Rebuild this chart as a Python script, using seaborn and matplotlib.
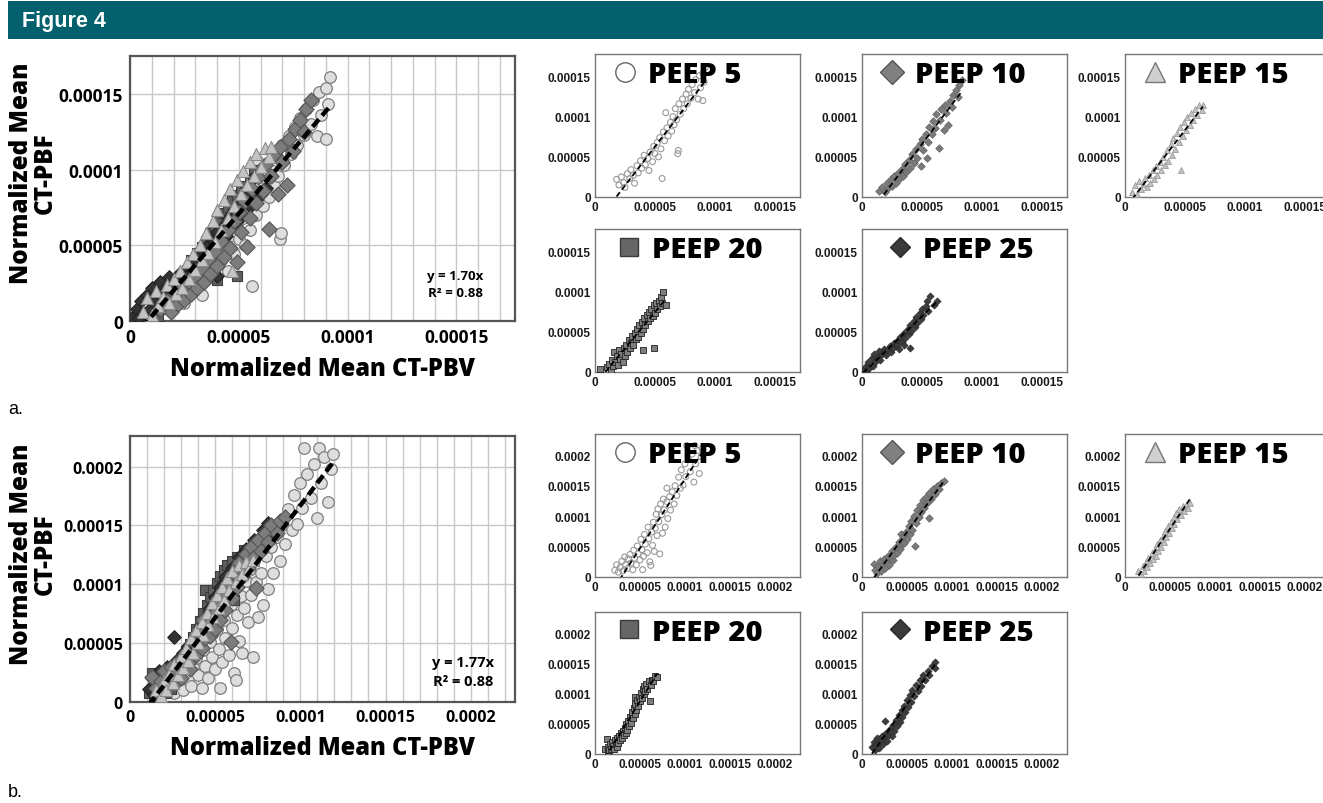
import numpy as np
import pandas as pd
import matplotlib
matplotlib.use("Agg")
import matplotlib.pyplot as plt
import seaborn as sns
from matplotlib.lines import Line2D
from matplotlib.patches import Rectangle
from matplotlib.ticker import FixedLocator, FixedFormatter, MultipleLocator

sns.set_theme(style="white")
plt.rcParams["font.family"] = ["DejaVu Sans"]
plt.rcParams["text.color"] = "black"
plt.rcParams["axes.labelcolor"] = "black"
plt.rcParams["xtick.color"] = "black"
plt.rcParams["ytick.color"] = "black"

# ---------------- data (values in units of 1e-5) ----------------
UNIT = 1e-5
peep_labels = ["PEEP 5", "PEEP 10", "PEEP 15", "PEEP 20", "PEEP 25"]

# panel a
a_peep5 = [(1.8,2.2),(2.0,1.5),(2.2,2.5),(2.4,1.8),(2.5,1.2),(2.7,2.9),(2.9,2.3),(3.0,3.4),(3.2,2.7),(3.3,1.7),
           (3.5,3.9),(3.6,3.0),(3.8,4.5),(3.9,3.6),(4.1,5.2),(4.2,4.0),(4.4,4.8),(4.5,3.3),(4.6,5.6),(4.8,4.4),
           (4.9,6.3),(5.0,5.4),(5.2,6.8),(5.3,5.0),(5.4,7.4),(5.5,6.0),(5.6,2.3),(5.7,8.1),(5.8,7.0),(5.9,10.5),
           (6.0,8.6),(6.1,7.6),(6.3,9.3),(6.4,8.2),(6.5,10.0),(6.6,9.0),(6.7,11.0),(6.8,9.6),(6.9,5.4),(6.95,5.8),
           (7.0,11.6),(7.1,10.3),(7.3,12.2),(7.4,11.0),(7.6,12.8),(7.7,11.6),(7.8,13.4),(8.0,12.3),(8.1,14.0),(8.3,13.0),
           (8.4,14.6),(8.6,12.2),(8.7,15.1),(8.8,13.6),(9.0,15.4),(9.1,14.3),(9.2,16.1),(9.0,12.0)]
a_peep10 = [(1.4,0.8),(1.7,1.3),(1.9,0.6),(2.1,1.8),(2.2,1.1),(2.4,2.2),(2.5,1.4),(2.7,2.6),(2.8,1.8),(3.0,3.0),
            (3.1,2.2),(3.3,3.5),(3.4,2.6),(3.6,4.1),(3.7,3.1),(3.9,4.6),(4.0,3.6),(4.2,5.3),(4.3,4.2),(4.5,6.0),
            (4.6,4.8),(4.8,6.6),(4.9,3.9),(5.0,7.2),(5.1,5.9),(5.3,7.9),(5.4,4.9),(5.5,6.8),(5.6,8.7),(5.8,7.8),
            (5.9,9.5),(6.1,8.6),(6.2,10.3),(6.4,6.1),(6.5,9.6),(6.6,11.0),(6.8,8.4),(6.9,11.5),(7.0,10.5),(7.2,9.0),
            (7.3,12.0),(7.5,11.2),(7.6,12.7),(7.8,13.3),(8.0,12.5),(8.1,14.0),(8.3,14.6)]
a_peep15 = [(0.6,0.6),(0.8,1.5),(1.0,0.4),(1.2,2.0),(1.3,1.0),(1.5,1.6),(1.7,2.4),(1.8,1.2),(2.0,2.8),(2.1,1.8),
            (2.3,3.3),(2.4,2.2),(2.6,3.9),(2.7,2.8),(2.9,4.4),(3.0,3.4),(3.2,5.0),(3.3,4.0),(3.5,5.8),(3.6,4.5),
            (3.8,6.6),(3.9,5.2),(4.0,7.3),(4.2,6.0),(4.3,8.0),(4.5,6.8),(4.6,8.7),(4.7,3.3),(4.8,7.6),(4.9,9.3),
            (5.1,8.4),(5.2,9.9),(5.4,9.0),(5.5,10.5),(5.7,9.6),(5.8,11.0),(6.0,10.2),(6.2,11.4),(6.4,10.8),(6.5,11.5)]
a_peep20 = [(0.4,0.4),(1.0,0.6),(1.2,1.0),(1.3,0.3),(1.4,1.5),(1.5,0.8),(1.6,2.5),(1.7,1.2),(1.8,2.0),(1.9,0.9),
            (2.0,2.7),(2.1,1.6),(2.2,2.3),(2.3,1.3),(2.4,3.0),(2.5,2.0),(2.6,3.4),(2.7,2.5),(2.8,4.0),(2.9,3.0),
            (3.0,3.6),(3.1,4.5),(3.2,3.3),(3.3,4.9),(3.4,4.1),(3.5,5.3),(3.6,4.4),(3.7,5.8),(3.8,4.9),(3.9,6.2),
            (4.0,2.7),(4.0,5.4),(4.1,6.7),(4.2,5.8),(4.3,7.1),(4.4,6.3),(4.5,7.5),(4.6,6.7),(4.7,7.9),(4.8,7.0),
            (4.9,3.0),(4.9,8.3),(5.0,7.4),(5.1,8.6),(5.2,7.8),(5.3,8.9),(5.4,8.2),(5.5,9.3),(5.6,8.6),(5.7,10.0),(5.9,8.3)]
a_peep25 = [(0.1,0.2),(0.3,0.8),(0.4,0.2),(0.5,1.3),(0.6,0.5),(0.8,1.7),(0.9,0.8),(1.0,2.2),(1.1,1.2),(1.3,1.9),
            (1.4,2.6),(1.5,1.5),(1.7,2.3),(1.8,2.9),(2.0,2.1),(2.1,2.7),(2.3,3.2),(2.4,2.5),(2.6,3.0),(2.7,3.6),
            (2.9,3.3),(3.0,4.0),(3.1,2.9),(3.2,4.4),(3.3,3.7),(3.5,3.4),(3.5,4.9),(3.6,4.2),(3.8,5.4),(3.9,4.7),
            (4.0,3.0),(4.0,5.9),(4.1,5.1),(4.3,6.3),(4.4,5.6),(4.5,6.8),(4.6,6.1),(4.8,7.3),(4.9,6.6),(5.0,7.8),
            (5.1,7.1),(5.3,8.2),(5.4,8.8),(5.5,7.6),(5.7,9.5),(6.0,8.4),(6.25,8.8)]

# panel b
b_peep5 = [(2.2,1.1),(2.4,2.0),(2.6,0.8),(2.8,1.6),(3.0,2.6),(3.1,1.0),(3.3,3.3),(3.4,2.0),(3.6,1.4),(3.7,3.0),
           (3.9,3.7),(4.0,2.3),(4.2,1.2),(4.3,4.4),(4.4,3.1),(4.6,2.0),(4.7,5.1),(4.8,3.8),(5.0,2.8),(5.1,6.2),
           (5.2,4.5),(5.3,1.2),(5.4,3.4),(5.5,7.0),(5.6,5.4),(5.8,4.0),(5.9,8.2),(6.0,6.3),(6.1,2.5),(6.2,1.9),
           (6.3,7.4),(6.4,5.2),(6.5,9.0),(6.6,4.2),(6.7,8.0),(6.8,10.3),(6.9,6.8),(7.0,11.2),(7.1,9.1),(7.2,3.8),
           (7.3,12.0),(7.4,10.2),(7.5,7.2),(7.6,12.8),(7.7,11.0),(7.8,8.2),(8.0,14.6),(8.0,12.4),(8.1,9.6),(8.3,13.2),
           (8.4,11.0),(8.6,14.0),(8.8,12.0),(8.9,15.0),(9.1,13.4),(9.3,16.4),(9.5,14.6),(9.6,17.6),(9.8,15.1),(10.0,18.6),
           (10.1,16.5),(10.2,21.6),(10.4,19.4),(10.6,17.3),(10.8,20.2),(11.0,15.6),(11.1,21.6),(11.2,18.6),(11.4,20.8),
           (11.6,17.0),(11.8,19.8),(11.9,21.1)]
b_peep10 = [(1.3,2.1),(1.5,1.2),(1.7,0.7),(1.8,1.8),(2.0,2.6),(2.1,1.0),(2.3,1.9),(2.4,3.0),(2.6,1.5),(2.7,2.4),
            (2.9,3.5),(3.0,2.0),(3.2,3.0),(3.3,4.2),(3.5,2.8),(3.6,3.6),(3.8,5.0),(3.9,4.0),(4.1,5.8),(4.2,4.6),
            (4.3,7.0),(4.4,5.4),(4.6,6.6),(4.7,5.6),(4.9,7.4),(5.0,6.2),(5.2,8.3),(5.3,7.0),(5.5,9.2),(5.6,7.8),
            (5.8,10.0),(5.9,5.1),(6.0,8.8),(6.1,11.0),(6.3,9.8),(6.4,11.8),(6.6,10.6),(6.8,12.6),(6.9,11.4),(7.1,13.2),
            (7.2,12.2),(7.4,9.7),(7.5,13.8),(7.7,12.8),(7.9,14.4),(8.1,13.6),(8.3,15.0),(8.6,14.4),(8.8,15.4),(9.1,15.7)]
b_peep15 = [(1.5,1.0),(1.8,0.5),(2.0,1.8),(2.1,1.0),(2.3,2.4),(2.5,1.6),(2.6,3.2),(2.8,2.3),(3.0,3.9),(3.1,2.9),
            (3.3,4.6),(3.4,3.5),(3.6,5.4),(3.7,4.2),(3.9,6.1),(4.0,5.0),(4.2,6.8),(4.3,5.7),(4.5,7.6),(4.6,6.5),
            (4.8,8.4),(4.9,7.2),(5.1,9.1),(5.2,8.0),(5.4,9.8),(5.5,8.7),(5.7,10.5),(5.8,9.5),(6.0,11.1),(6.2,10.2),
            (6.4,11.6),(6.6,10.9),(6.8,11.9),(7.0,11.4),(7.2,12.1)]
b_peep20 = [(1.1,0.8),(1.3,2.5),(1.4,0.4),(1.5,1.2),(1.6,0.6),(1.7,1.6),(1.8,0.9),(1.9,2.0),(2.0,1.3),(2.1,0.8),
            (2.2,2.3),(2.3,1.6),(2.4,1.1),(2.5,2.7),(2.6,1.9),(2.7,3.0),(2.8,2.3),(2.9,3.4),(3.0,2.7),(3.1,3.8),
            (3.2,3.1),(3.3,4.3),(3.4,3.5),(3.5,4.9),(3.6,4.0),(3.7,5.5),(3.8,4.6),(3.9,6.2),(4.0,5.2),(4.1,6.9),
            (4.2,5.9),(4.3,7.6),(4.4,9.5),(4.4,6.6),(4.5,8.2),(4.6,7.3),(4.7,8.9),(4.8,8.0),(4.9,9.5),(5.0,8.7),
            (5.1,10.1),(5.2,9.3),(5.3,10.7),(5.4,9.9),(5.5,11.2),(5.6,10.4),(5.7,11.6),(5.8,10.8),(6.0,12.0),(6.1,8.7),
            (6.2,11.4),(6.3,12.3),(6.5,12.0),(6.7,12.9),(6.9,12.8)]
b_peep25 = [(1.1,1.1),(1.3,2.0),(1.4,0.6),(1.6,1.5),(1.7,2.6),(1.9,1.0),(2.0,2.0),(2.2,3.0),(2.3,1.6),(2.5,2.6),
            (2.6,5.5),(2.7,3.5),(2.8,2.2),(3.0,3.2),(3.1,4.2),(3.3,3.0),(3.4,4.8),(3.6,3.8),(3.8,5.6),(3.9,4.6),
            (4.1,6.4),(4.2,5.3),(4.4,7.2),(4.5,6.1),(4.7,8.0),(4.8,7.0),(5.0,8.9),(5.1,7.8),(5.3,9.8),(5.4,8.6),
            (5.6,10.6),(5.8,9.6),(6.0,11.4),(6.2,10.5),(6.4,12.3),(6.6,11.3),(6.8,13.0),(7.0,12.2),(7.3,13.8),(7.5,13.0),
            (7.8,14.6),(8.1,14.2),(8.1,15.2)]

equation_a = ["y = 1.70x", "R² = 0.88"]
equation_b = ["y = 1.77x", "R² = 0.88"]

ticks_a = [0, 5e-5, 1e-4, 1.5e-4]
ticklabels_a = ["0", "0.00005", "0.0001", "0.00015"]
ticks_b = [0, 5e-5, 1e-4, 1.5e-4, 2e-4]
ticklabels_b = ["0", "0.00005", "0.0001", "0.00015", "0.0002"]

xlabel_main = "Normalized Mean CT-PBV"
ylabel_main = "Normalized Mean\nCT-PBF"

# ---------------- styles ----------------
main_style = {
    "PEEP 5":  dict(marker="o", s=70, color="#dedede", edgecolor="#7e7e7e", linewidth=0.9),
    "PEEP 15": dict(marker="^", s=75, color="#c4c4c4", edgecolor="#8a8a8a", linewidth=0.8),
    "PEEP 10": dict(marker="D", s=60, color="#7c7c7c", edgecolor="#555555", linewidth=0.8),
    "PEEP 20": dict(marker="s", s=60, color="#5e5e5e", edgecolor="#3c3c3c", linewidth=0.8),
    "PEEP 25": dict(marker="D", s=48, color="#333333", edgecolor="#222222", linewidth=0.8),
}
small_style = {
    "PEEP 5":  dict(marker="o", s=18, color="#9a9a9a", facecolor="none", edgecolor="#9a9a9a", linewidth=0.8),
    "PEEP 10": dict(marker="D", s=15, color="#7a7a7a", edgecolor="#666666", linewidth=0.5),
    "PEEP 15": dict(marker="^", s=18, color="#c2c2c2", edgecolor="#9a9a9a", linewidth=0.6),
    "PEEP 20": dict(marker="s", s=15, color="#7e7e7e", edgecolor="#222222", linewidth=0.6),
    "PEEP 25": dict(marker="D", s=13, color="#3c3c3c", edgecolor="#2a2a2a", linewidth=0.5),
}
legend_style = {
    "PEEP 5":  dict(marker="o", markersize=14, markerfacecolor="white",   markeredgecolor="#666666", markeredgewidth=1.0),
    "PEEP 10": dict(marker="D", markersize=12, markerfacecolor="#808080", markeredgecolor="#555555", markeredgewidth=1.0),
    "PEEP 15": dict(marker="^", markersize=15, markerfacecolor="#d0d0d0", markeredgecolor="#777777", markeredgewidth=1.0),
    "PEEP 20": dict(marker="s", markersize=13, markerfacecolor="#666666", markeredgecolor="#3a3a3a", markeredgewidth=1.0),
    "PEEP 25": dict(marker="D", markersize=10, markerfacecolor="#3a3a3a", markeredgecolor="#2a2a2a", markeredgewidth=1.0),
}

W, H = 1323, 804
fig = plt.figure(figsize=(W / 100, H / 100), dpi=100)
fig.patch.set_facecolor("white")

def px_axes(left, top, right, bottom):
    return fig.add_axes([left / W, 1 - bottom / H, (right - left) / W, (bottom - top) / H])

def to_df(pairs, label):
    arr = np.array(pairs, dtype=float) * UNIT
    return pd.DataFrame({"x": arr[:, 0], "y": arr[:, 1], "peep": label})

sets = {
    "a": dict(zip(peep_labels, [a_peep5, a_peep10, a_peep15, a_peep20, a_peep25])),
    "b": dict(zip(peep_labels, [b_peep5, b_peep10, b_peep15, b_peep20, b_peep25])),
}

# ---------------- header ----------------
fig.add_artist(Rectangle((8 / W, 1 - 40 / H), (W - 8) / W, 38 / H, transform=fig.transFigure,
                         facecolor="#02616c", edgecolor="none"))
fig.text(22 / W, 1 - 21 / H, "Figure 4", color="white", fontsize=15.5, fontweight="bold",
         family=["Liberation Sans"], ha="left", va="center")

# ---------------- main panels ----------------
main_cfg = {
    "a": dict(box=(130, 57, 515, 322), xlim=1.77e-4, ylim=1.75e-4, ticks=ticks_a, labels=ticklabels_a,
              eq=equation_a, eqpos=(0.845, 0.14), eqsize=9.5, tsize=12.5, letter_y=410),
    "b": dict(box=(130, 437, 515, 703), xlim=2.26e-4, ylim=2.26e-4, ticks=ticks_b, labels=ticklabels_b,
              eq=equation_b, eqpos=(0.865, 0.115), eqsize=10.5, tsize=11.5, letter_y=793),
}
draw_order = ["PEEP 5", "PEEP 20", "PEEP 25", "PEEP 10", "PEEP 15"]

for key, cfg in main_cfg.items():
    ax = px_axes(*cfg["box"])
    frames = []
    for i, lab in enumerate(draw_order):
        df = to_df(sets[key][lab], lab)
        frames.append(df)
        sns.scatterplot(data=df, x="x", y="y", ax=ax, zorder=3 + i, legend=False, **main_style[lab])
    alldf = pd.concat(frames)
    sns.regplot(data=alldf, x="x", y="y", ax=ax, scatter=False, ci=None, truncate=True, color="black",
                line_kws=dict(lw=3.2, ls=(0, (2.2, 1.1)), zorder=10))
    ax.set_xlim(0, cfg["xlim"])
    ax.set_ylim(0, cfg["ylim"])
    ax.xaxis.set_major_locator(FixedLocator(cfg["ticks"]))
    ax.xaxis.set_major_formatter(FixedFormatter(cfg["labels"]))
    ax.yaxis.set_major_locator(FixedLocator(cfg["ticks"]))
    ax.yaxis.set_major_formatter(FixedFormatter(cfg["labels"]))
    ax.xaxis.set_minor_locator(MultipleLocator(1e-5))
    ax.grid(True, which="major", axis="both", color="#c8c8c8", lw=1.0, zorder=0)
    ax.grid(True, which="minor", axis="x", color="#c8c8c8", lw=1.0, zorder=0)
    ax.set_axisbelow(True)
    ax.tick_params(axis="both", which="both", length=0, pad=5)
    for t in ax.get_xticklabels() + ax.get_yticklabels():
        t.set_fontfamily(["Open Sans", "DejaVu Sans"])
        t.set_fontweight("bold")
        t.set_fontsize(cfg["tsize"])
        t.set_color("black")
    for sp in ax.spines.values():
        sp.set_color("#555555")
        sp.set_linewidth(1.6)
    ax.set_xlabel(xlabel_main, family=["Open Sans", "DejaVu Sans"], fontweight="heavy", fontsize=17,
                  labelpad=7, color="black")
    ax.set_ylabel(ylabel_main, family=["Open Sans", "DejaVu Sans"], fontweight="heavy", fontsize=17.5,
                  linespacing=0.92, color="black")
    ax.yaxis.set_label_coords(-0.188, 0.56)
    ax.text(cfg["eqpos"][0], cfg["eqpos"][1], "\n".join(cfg["eq"]), transform=ax.transAxes,
            ha="center", va="center", fontsize=cfg["eqsize"], fontweight="bold", color="black",
            family=["Open Sans", "DejaVu Sans"], linespacing=1.45, zorder=12)
    fig.text(8 / W, 1 - cfg["letter_y"] / H, key + ".", fontsize=13,
             family=["Liberation Sans"], ha="left", va="center", color="black")

# ---------------- small panels ----------------
cols = [(595, 800), (862, 1067), (1125, 1330)]
small_cfg = {
    "a": dict(rows=[(55, 198), (230, 373)], xlim=1.71e-4, ylim=1.78e-4, ticks=ticks_a, labels=ticklabels_a),
    "b": dict(rows=[(435, 578), (613, 755)], xlim=2.28e-4, ylim=2.35e-4, ticks=ticks_b, labels=ticklabels_b),
}
slots = [(0, 0), (0, 1), (0, 2), (1, 0), (1, 1)]
legend_anchor = {"PEEP 5": (0.08, 0.96), "PEEP 10": (0.08, 0.96), "PEEP 15": (0.08, 0.96),
                 "PEEP 20": (0.1, 0.96), "PEEP 25": (0.12, 0.96)}

for key, cfg in small_cfg.items():
    for lab, (r, c) in zip(peep_labels, slots):
        top, bottom = cfg["rows"][r]
        left, right = cols[c]
        ax = px_axes(left, top, right, bottom)
        df = to_df(sets[key][lab], lab)
        sns.scatterplot(data=df, x="x", y="y", ax=ax, legend=False, zorder=3, **small_style[lab])
        sns.regplot(data=df, x="x", y="y", ax=ax, scatter=False, ci=None, truncate=True, color="black",
                    line_kws=dict(lw=1.3, ls=(0, (3, 1.8)), zorder=5))
        ax.set_xlim(0, cfg["xlim"])
        ax.set_ylim(0, cfg["ylim"])
        ax.xaxis.set_major_locator(FixedLocator(cfg["ticks"]))
        ax.xaxis.set_major_formatter(FixedFormatter(cfg["labels"]))
        ax.yaxis.set_major_locator(FixedLocator(cfg["ticks"]))
        ax.yaxis.set_major_formatter(FixedFormatter(cfg["labels"]))
        ax.tick_params(axis="both", length=0, pad=3, labelsize=8.5)
        for t in ax.get_xticklabels() + ax.get_yticklabels():
            t.set_fontfamily(["Liberation Sans", "DejaVu Sans"])
            t.set_fontweight("bold")
            t.set_color("#1a1a1a")
        ax.grid(False)
        for sp in ax.spines.values():
            sp.set_color("#777777")
            sp.set_linewidth(1.0)
        ax.set_xlabel("")
        ax.set_ylabel("")
        handle = Line2D([], [], ls="none", **legend_style[lab])
        leg = ax.legend(handles=[handle], labels=[lab], loc="upper left",
                        bbox_to_anchor=legend_anchor[lab], frameon=False,
                        prop=dict(family=["Open Sans", "DejaVu Sans"], weight="heavy", size=21),
                        handlelength=0.9, handletextpad=0.35, borderpad=0, borderaxespad=0,
                        labelcolor="black")
        leg.set_zorder(8)

fig.savefig("out.png", dpi=100, facecolor="white")
